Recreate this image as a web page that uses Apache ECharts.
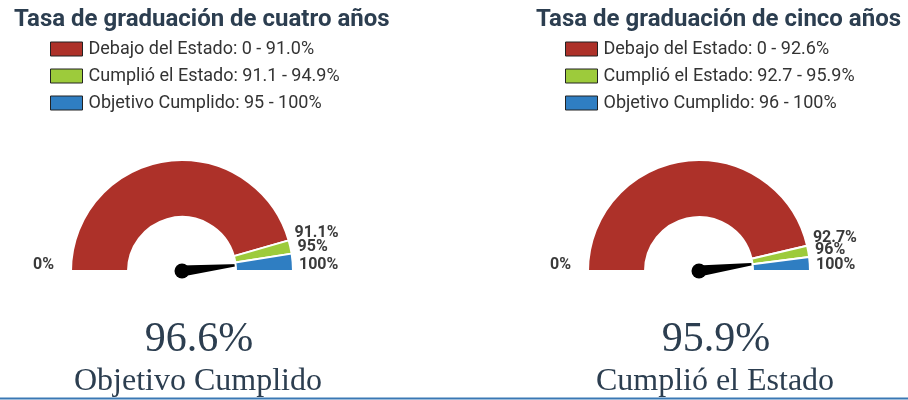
<!DOCTYPE html>
<html>
<head>
<meta charset="utf-8">
<script src="https://cdn.jsdelivr.net/npm/echarts@6/dist/echarts.min.js"></script>
<style>
  html, body { margin: 0; padding: 0; background: #fff; }
  #main { width: 908px; height: 400px; }
</style>
</head>
<body>
<div id="main"></div>
<script>
// datos de los dos indicadores
var titulos = ['Tasa de graduación de cuatro años', 'Tasa de graduación de cinco años'];
var nombresBandas = ['Debajo del Estado', 'Cumplió el Estado', 'Objetivo Cumplido'];
var rangosCuatro = ['0 - 91.0%', '91.1 - 94.9%', '95 - 100%'];
var rangosCinco = ['0 - 92.6%', '92.7 - 95.9%', '96 - 100%'];
// limites de las bandas (tambien son las etiquetas del medidor)
var cortesCuatro = [0, 91.1, 95, 100];
var cortesCinco = [0, 92.7, 96, 100];
var valores = [96.6, 95.9];
var estados = ['Objetivo Cumplido', 'Cumplió el Estado'];
var colores = ['#ad3129', '#9dcb3b', '#2f7ec2'];

var centros = [[182, 271], [699, 271]];
var tituloX = [9, 531];
var leyendaX = [45, 560];

var chart = echarts.init(document.getElementById('main'));

function bandas(cortes, rangos) {
    var out = [];
    for (var i = 0; i < 3; i++) {
        out.push({
            name: nombresBandas[i] + ': ' + rangos[i],
            value: cortes[i + 1] - cortes[i],
            itemStyle: {color: colores[i]}
        });
    }
    // mitad inferior invisible
    out.push({name: 'vacio', value: 100, itemStyle: {color: 'rgba(0,0,0,0)', borderWidth: 0}});
    return out;
}

var series = [];
var legends = [];
var titles = [];
var polars = [];
var angleAxes = [];
var radiusAxes = [];
[[cortesCuatro, rangosCuatro], [cortesCinco, rangosCinco]].forEach(function (par, k) {
    var cortes = par[0];
    var data = bandas(cortes, par[1]);
    series.push({
        type: 'pie',
        center: centros[k],
        radius: [54, 111],
        startAngle: 180,
        clockwise: true,
        silent: true,
        label: {show: false},
        labelLine: {show: false},
        itemStyle: {borderColor: '#fff', borderWidth: 2},
        data: data
    });
    series.push({
        type: 'gauge',
        center: centros[k],
        radius: 111,
        startAngle: 180,
        endAngle: 0,
        min: 0,
        max: 100,
        axisLine: {show: false},
        splitLine: {show: false},
        axisTick: {show: false},
        axisLabel: {show: false},
        pointer: {
            icon: 'path://M5 0L10 100L0 100Z',
            length: 68,
            width: 11,
            itemStyle: {color: '#000'}
        },
        anchor: {show: true, size: 15, showAbove: true, itemStyle: {color: '#000'}},
        title: {
            offsetCenter: [16, 111],
            fontFamily: 'Liberation Serif',
            fontSize: 32,
            color: '#2c3e50'
        },
        detail: {
            offsetCenter: [17, 69],
            fontFamily: 'Liberation Serif',
            fontSize: 42,
            fontWeight: 'normal',
            color: '#2c3e50',
            formatter: '{value}%'
        },
        data: [{value: valores[k], name: estados[k]}]
    });
    // eje angular solo para las etiquetas de los cortes (0..100 es media vuelta)
    polars.push({center: centros[k], radius: 111});
    radiusAxes.push({polarIndex: k, show: false});
    angleAxes.push({
        polarIndex: k,
        type: 'value',
        min: 0,
        max: 200,
        startAngle: 180,
        clockwise: true,
        axisLine: {show: false},
        axisTick: {show: false},
        splitLine: {show: false},
        axisLabel: {
            customValues: cortes,
            margin: 6,
            formatter: function (v) {
                return v === cortes[0] ? '{izq|' + v + '%}' : '{der|' + v + '%}';
            },
            rich: {
                izq: {fontFamily: 'Roboto', fontWeight: 'bold', fontSize: 16, color: '#3a3a3a', padding: [0, 11, 12, 0]},
                der: {fontFamily: 'Roboto', fontWeight: 'bold', fontSize: 16, color: '#3a3a3a', padding: [0, 0, 12, 0]}
            }
        }
    });
    legends.push({
        orient: 'vertical',
        left: leyendaX[k],
        top: 35,
        icon: 'rect',
        itemWidth: 32,
        itemHeight: 14,
        itemGap: 9,
        selectedMode: false,
        itemStyle: {borderColor: '#222', borderWidth: 1},
        textStyle: {fontFamily: 'Roboto', fontSize: 18, color: '#333', padding: [0, 0, 0, 1]},
        data: data.slice(0, 3).map(function (d) { return d.name; })
    });
    titles.push({
        text: titulos[k],
        left: tituloX[k],
        top: 3,
        textStyle: {fontFamily: 'Roboto', fontWeight: 'bold', fontSize: 24, color: '#2c3e50'}
    });
});

chart.setOption({
    animation: false,
    title: titles,
    legend: legends,
    polar: polars,
    angleAxis: angleAxes,
    radiusAxis: radiusAxes,
    series: series,
    graphic: [{
        type: 'line',
        shape: {x1: 0, y1: 398.5, x2: 908, y2: 398.5},
        style: {stroke: '#3a78b4', lineWidth: 2}
    }]
});
</script>
</body>
</html>
